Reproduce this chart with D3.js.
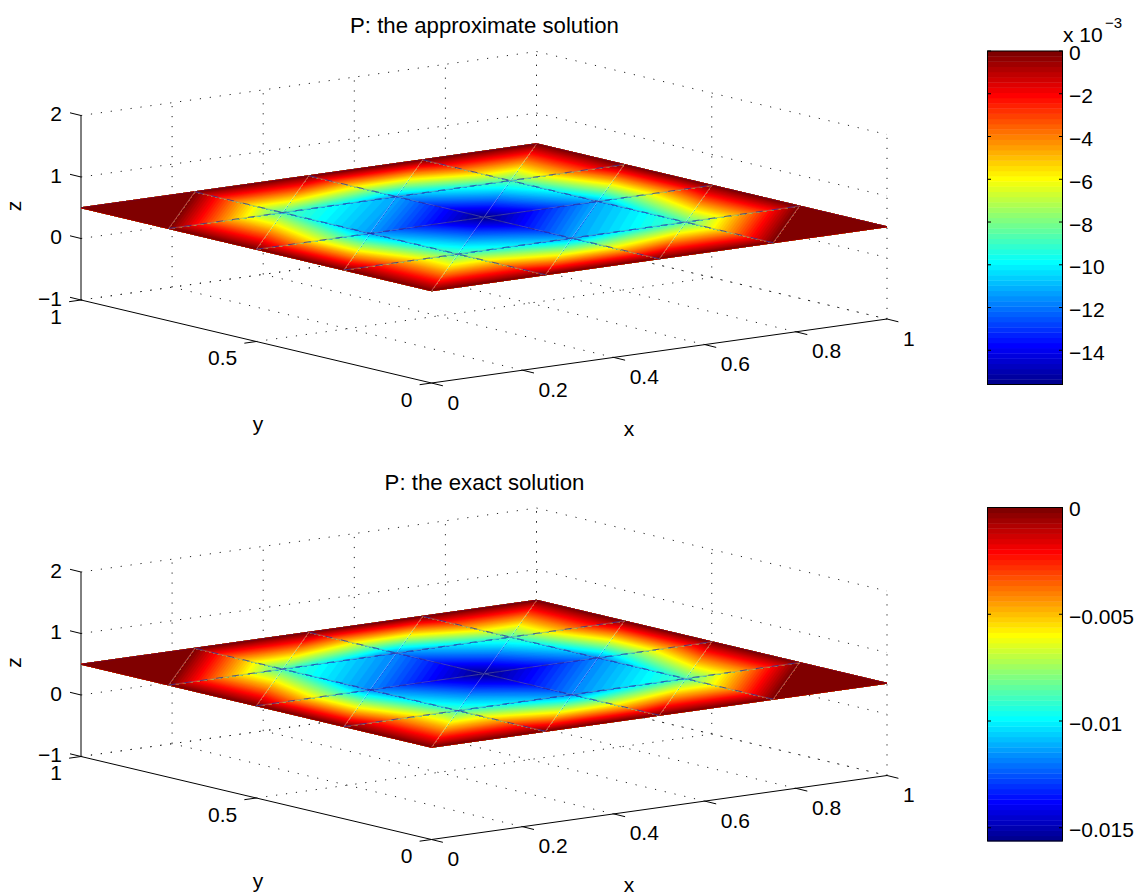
<!DOCTYPE html>
<html>
<head>
<meta charset="utf-8">
<script src="https://cdn.jsdelivr.net/npm/d3@7"></script>
<style>
  body { margin: 0; background: white; }
  text { font-family: "Liberation Sans", Arial, sans-serif; fill: black; }
</style>
</head>
<body>
<div id="chart"></div>
<script>
// values
const xTicks = [0, 0.2, 0.4, 0.6, 0.8, 1]
const yTicks = [0, 0.5, 1]
const zTicks = [-1, 0, 1, 2]
const meshNodes = [0, 0.25, 0.5, 0.75, 1]
const surfaceZ = 0.5

// node values, rows are y = 0 .. 1, columns are x = 0 .. 1
const approxP = [
  [0, 0, 0, 0, 0],
  [0, -0.0086, -0.0113, -0.0087, 0],
  [0, -0.0114, -0.0156, -0.0112, 0],
  [0, -0.0087, -0.0112, -0.0085, 0],
  [0, 0, 0, 0, 0]
]
const exactP = [
  [0, 0, 0, 0, 0],
  [0, -0.00879, -0.01172, -0.00879, 0],
  [0, -0.01172, -0.01562, -0.01172, 0],
  [0, -0.00879, -0.01172, -0.00879, 0],
  [0, 0, 0, 0, 0]
]

const approxBarTicks = [0, -2, -4, -6, -8, -10, -12, -14]
const exactBarTicks = [0, -0.005, -0.01, -0.015]

const width = 1141, height = 895

const svg = d3.select('#chart').append('svg')
  .attr('width', width)
  .attr('height', height)
  .style('display', 'block')

// jet colormap, 64 levels
const jetScale = d3.scaleLinear()
  .domain([0, 0.125, 0.375, 0.625, 0.875, 1])
  .range(['rgb(0,0,128)', 'rgb(0,0,255)', 'rgb(0,255,255)', 'rgb(255,255,0)', 'rgb(255,0,0)', 'rgb(128,0,0)'])
const jet = d3.range(64).map(i => jetScale((i + 1) / 64))

// the 3d box is a fixed oblique view, one scale per screen component
const xToLeft = d3.scaleLinear().domain([0, 1]).range([0, 455.5])
const xToTop = d3.scaleLinear().domain([0, 1]).range([0, -64])
const yToLeft = d3.scaleLinear().domain([0, 1]).range([0, -350.5])
const yToTop = d3.scaleLinear().domain([0, 1]).range([0, -83])
const zToTop = d3.scaleLinear().domain([-1, 2]).range([0, -184.5])

const line = d3.line()

function drawPanel(cfg) {
  const g = svg.append('g').attr('transform', `translate(0,${cfg.dy})`)
  const project = (x, y, z) => [
    431.5 + xToLeft(x) + yToLeft(y),
    383 + xToTop(x) + yToTop(y) + zToTop(z)
  ]

  // dotted grid on floor and the two back walls
  const grid = []
  xTicks.forEach(x => {
    if (x > 0) grid.push([project(x, 0, -1), project(x, 1, -1)])
    if (x > 0) grid.push([project(x, 1, -1), project(x, 1, 2)])
  })
  yTicks.forEach(y => {
    if (y > 0) grid.push([project(0, y, -1), project(1, y, -1)])
    grid.push([project(1, y, -1), project(1, y, 2)])
  })
  zTicks.forEach(z => {
    grid.push([project(0, 1, z), project(1, 1, z)])
    grid.push([project(1, 1, z), project(1, 0, z)])
  })
  g.selectAll('.grid').data(grid).enter().append('path')
    .attr('class', 'grid')
    .attr('d', line)
    .attr('fill', 'none')
    .attr('stroke', '#222')
    .attr('stroke-width', 1)
    .attr('stroke-dasharray', '1.2 8.8')

  // axes
  const axes = [
    [project(0, 1, -1), project(0, 1, 2)],
    [project(0, 1, -1), project(0, 0, -1)],
    [project(0, 0, -1), project(1, 0, -1)]
  ]
  g.selectAll('.axis').data(axes).enter().append('path')
    .attr('class', 'axis')
    .attr('d', line)
    .attr('fill', 'none')
    .attr('stroke', 'black')
    .attr('stroke-width', 1)

  // tick marks
  const tickMarks = []
  zTicks.forEach(z => {
    const p = project(0, 1, z)
    tickMarks.push([p, [p[0] - 11, p[1] - 2.7]])
  })
  yTicks.forEach(y => {
    const p = project(0, y, -1)
    tickMarks.push([p, [p[0] - 11.9, p[1] + 1.7]])
  })
  xTicks.forEach(x => {
    const p = project(x, 0, -1)
    tickMarks.push([p, [p[0] + 11.4, p[1] + 2.8]])
  })
  g.selectAll('.tick').data(tickMarks).enter().append('path')
    .attr('class', 'tick')
    .attr('d', line)
    .attr('fill', 'none')
    .attr('stroke', 'black')
    .attr('stroke-width', 1)

  // tick labels
  const minus = s => String(s).replace('-', '\u2212')
  g.selectAll('.zlab').data(zTicks).enter().append('text')
    .attr('class', 'zlab')
    .attr('x', z => project(0, 1, z)[0] - 19)
    .attr('y', z => project(0, 1, z)[1] - 2)
    .attr('dy', '0.36em')
    .attr('text-anchor', 'end')
    .attr('font-size', 21)
    .text(minus)
  g.selectAll('.ylab').data(yTicks).enter().append('text')
    .attr('class', 'ylab')
    .attr('x', y => project(0, y, -1)[0] - 19)
    .attr('y', y => project(0, y, -1)[1] + 16)
    .attr('dy', '0.36em')
    .attr('text-anchor', 'end')
    .attr('font-size', 21)
    .text(d => d)
  g.selectAll('.xlab').data(xTicks).enter().append('text')
    .attr('class', 'xlab')
    .attr('x', x => project(x, 0, -1)[0] + 16)
    .attr('y', x => project(x, 0, -1)[1] + 19)
    .attr('dy', '0.36em')
    .attr('font-size', 21)
    .text(d => d)

  // axis names and title
  g.append('text').attr('x', 629).attr('y', 431.5).attr('dy', '0.2em')
    .attr('text-anchor', 'middle').attr('font-size', 21).text('x')
  g.append('text').attr('x', 258).attr('y', 427).attr('dy', '0.2em')
    .attr('text-anchor', 'middle').attr('font-size', 21).text('y')
  g.append('text').attr('transform', 'translate(17,206) rotate(-90)').attr('dy', '0.2em')
    .attr('text-anchor', 'middle').attr('font-size', 21).text('z')
  g.append('text').attr('x', 484.5).attr('y', 33)
    .attr('text-anchor', 'middle').attr('font-size', 22.2).text(cfg.title)

  // surface: every triangle is painted band by band, nested
  const low = d3.min(cfg.values.flat())
  const colorIndex = d3.scaleLinear().domain([low, 0]).range([0, 64])
  const levels = d3.range(0, 64).map(k => colorIndex.invert(k))

  const triangles = []
  d3.range(4).forEach(j => {
    d3.range(4).forEach(i => {
      const node = (a, b) => ({ x: meshNodes[a], y: meshNodes[b], v: cfg.values[b][a] })
      triangles.push([node(i, j), node(i + 1, j), node(i + 1, j + 1)])
      triangles.push([node(i, j), node(i + 1, j + 1), node(i, j + 1)])
    })
  })

  // keep the part of a polygon where v >= level
  function clip(poly, level) {
    const out = []
    poly.forEach((a, n) => {
      const b = poly[(n + 1) % poly.length]
      if (a.v >= level) out.push(a)
      if ((a.v >= level) !== (b.v >= level)) {
        const t = (level - a.v) / (b.v - a.v)
        out.push({ x: a.x + t * (b.x - a.x), y: a.y + t * (b.y - a.y), v: level })
      }
    })
    return out
  }

  const bands = []
  triangles.forEach(tri => {
    levels.forEach((level, k) => {
      const poly = k === 0 ? tri : clip(tri, level)
      if (poly.length > 2) bands.push({ poly: poly, k: k })
    })
  })
  g.selectAll('.band').data(bands).enter().append('path')
    .attr('class', 'band')
    .attr('d', d => line(d.poly.map(n => project(n.x, n.y, surfaceZ))) + 'Z')
    .attr('fill', d => jet[d.k])
    .attr('stroke', d => jet[d.k])
    .attr('stroke-width', 0.25)

  // the thin light diagonals between the triangles
  const diagonals = []
  ;[-0.75, -0.5, -0.25, 0, 0.25, 0.5, 0.75].forEach(c => {
    const x0 = Math.max(0, c), x1 = Math.min(1, 1 + c)
    diagonals.push([project(x0, x0 - c, surfaceZ), project(x1, x1 - c, surfaceZ)])
  })
  g.selectAll('.diag').data(diagonals).enter().append('path')
    .attr('class', 'diag')
    .attr('d', line)
    .attr('fill', 'none')
    .attr('stroke', 'white')
    .attr('stroke-opacity', 0.5)
    .attr('stroke-width', 0.6)

  // mesh edges, gray with a broken dark blue on top
  const edges = []
  meshNodes.slice(1, 4).forEach(m => {
    edges.push([project(m, 0, surfaceZ), project(m, 1, surfaceZ)])
    edges.push([project(0, m, surfaceZ), project(1, m, surfaceZ)])
  })
  g.selectAll('.edgeBase').data(edges).enter().append('path')
    .attr('class', 'edgeBase')
    .attr('d', line)
    .attr('fill', 'none')
    .attr('stroke', '#808098')
    .attr('stroke-opacity', 0.65)
    .attr('stroke-width', 0.7)
  g.selectAll('.edgeDash').data(edges).enter().append('path')
    .attr('class', 'edgeDash')
    .attr('d', line)
    .attr('fill', 'none')
    .attr('stroke', '#1a1a9a')
    .attr('stroke-opacity', 0.75)
    .attr('stroke-width', 0.8)
    .attr('stroke-dasharray', '7 9')

  // back rim of the surface has only a faint blue edge
  const rim = [project(0, 1, surfaceZ), project(1, 1, surfaceZ), project(1, 0, surfaceZ)]
  g.append('path')
    .attr('d', line(rim))
    .attr('fill', 'none')
    .attr('stroke', '#1a1a9a')
    .attr('stroke-opacity', 0.4)
    .attr('stroke-width', 0.5)

  // colorbar
  const barLeft = 987.5, barRight = 1062.5
  const barY = d3.scaleLinear().domain([low, 0]).range([384.5, 51])
  const barCells = d3.range(64)
  const cellY = d3.scaleLinear().domain([0, 64]).range([384.5, 51])
  g.selectAll('.cell').data(barCells).enter().append('rect')
    .attr('class', 'cell')
    .attr('x', barLeft)
    .attr('width', barRight - barLeft)
    .attr('y', i => cellY(i + 1))
    .attr('height', i => cellY(i) - cellY(i + 1) + 0.4)
    .attr('fill', i => jet[i])
  g.append('rect')
    .attr('x', barLeft).attr('y', 51)
    .attr('width', barRight - barLeft).attr('height', 333.5)
    .attr('fill', 'none').attr('stroke', 'black').attr('stroke-width', 1)

  const barTicks = cfg.barTicks.map(t => t * cfg.barScale)
  const barMarks = []
  barTicks.forEach(t => {
    barMarks.push([[barLeft, barY(t)], [barLeft + 3.5, barY(t)]])
    barMarks.push([[barRight, barY(t)], [barRight - 3.5, barY(t)]])
  })
  g.selectAll('.barTick').data(barMarks).enter().append('path')
    .attr('class', 'barTick')
    .attr('d', line)
    .attr('stroke', 'black')
    .attr('stroke-width', 1)
  g.selectAll('.barLab').data(cfg.barTicks).enter().append('text')
    .attr('class', 'barLab')
    .attr('x', 1069)
    .attr('y', t => barY(t * cfg.barScale) + (t === 0 ? 1 : 2))
    .attr('dy', '0.36em')
    .attr('font-size', 21)
    .text(minus)

  if (cfg.exponent) {
    g.append('text').attr('x', 1063).attr('y', 34).attr('dy', '0.36em')
      .attr('font-size', 21).text('x 10')
    g.append('text').attr('x', 1105).attr('y', 23).attr('dy', '0.36em')
      .attr('font-size', 15).text('\u22123')
  }
}

drawPanel({
  dy: 0,
  title: 'P: the approximate solution',
  values: approxP,
  barTicks: approxBarTicks,
  barScale: 0.001,
  exponent: true
})
drawPanel({
  dy: 456.5,
  title: 'P: the exact solution',
  values: exactP,
  barTicks: exactBarTicks,
  barScale: 1,
  exponent: false
})
</script>
</body>
</html>
